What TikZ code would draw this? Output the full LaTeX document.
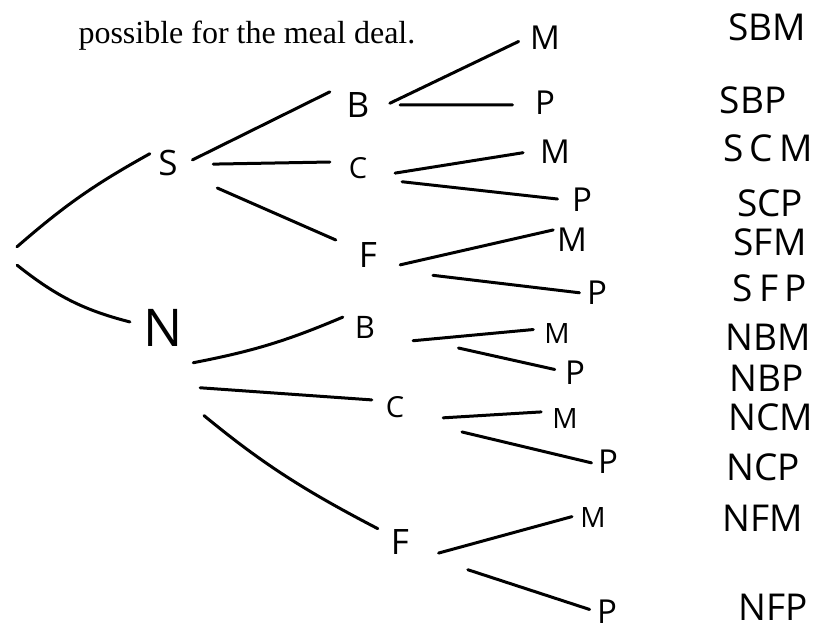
\documentclass[tikz,border=0pt]{standalone}
\usepackage{fontspec}
\setmainfont{Liberation Serif}
\newfontfamily\hand{Open Sans}

\begin{document}
\begin{tikzpicture}[x=1pt, y=-1pt,
        mid/.style={rectangle, inner sep=0pt, minimum height=50pt, font=\hand\fontsize{35}{40}\selectfont},
        leaf/.style={circle, inner sep=0pt, minimum size=30pt, font=\hand\fontsize{33}{38}\selectfont},
        small/.style={font=\hand\fontsize{28}{32}\selectfont},
        combo/.style={inner sep=0pt, font=\hand\fontsize{37}{42}\selectfont},
        br/.style={line width=3pt, line cap=round}
    ]
    \useasboundingbox (0,0) rectangle (815,633);
    \node[anchor=base west, font=\fontsize{32}{38}\selectfont] (title) at (75,43) {possible for the meal deal.};

    % first choice
    \node[rectangle, inner sep=0pt, minimum width=2pt, minimum height=18pt] (root) at (16,256) {};
    \node[mid, minimum width=36pt, minimum height=80pt] (S) at (168,163) {S};
    \node[mid, minimum width=60pt, minimum height=180pt, font=\hand\fontsize{52}{56}\selectfont] (N) at (163,328) {N};

    % second choice
    \node[mid, minimum width=56pt] (sb) at (358,105) {B};
    \node[mid, minimum width=56pt, font=\hand\fontsize{29}{34}\selectfont] (sc) at (358,168) {C};
    \node[mid, minimum width=64pt] (sf) at (368,255) {F};
    \node[mid, minimum width=44pt, minimum height=60pt, font=\hand\fontsize{31}{36}\selectfont] (nb) at (365,327) {B};
    \node[mid, minimum width=46pt, minimum height=60pt, font=\hand\fontsize{29}{34}\selectfont] (nc) at (395,407) {C};
    \node[mid, minimum width=44pt, minimum height=60pt] (nf) at (400,542) {F};

    % third choice
    \node[leaf] (sbm) at (545,38) {M};
    \node[leaf] (sbp) at (545,103) {P};
    \node[leaf] (scm) at (555,152) {M};
    \node[leaf] (scp) at (582,200) {P};
    \node[leaf] (sfm) at (572,240) {M};
    \node[leaf] (sfp) at (597,293) {P};
    \node[leaf, small] (nbm) at (557,333) {M};
    \node[leaf] (nbp) at (575,373) {P};
    \node[leaf, small] (ncm) at (565,418) {M};
    \node[leaf] (ncp) at (608,462) {P};
    \node[leaf, small] (nfm) at (593,517) {M};
    \node[leaf] (nfp) at (607,612) {P};

    % outcomes
    \node[combo] (oSBM) at (767,27) {SBM};
    \node[combo] (oSBP) at (753,100) {SBP};
    \node[combo] (oSCM) at (768,148) {S\,C\,M};
    \node[combo] (oSCP) at (770,203) {SCP};
    \node[combo] (oSFM) at (770,242) {SFM};
    \node[combo] (oSFP) at (770,288) {S\,F\,P};
    \node[combo] (oNBM) at (768,337) {NBM};
    \node[combo] (oNBP) at (767,378) {NBP};
    \node[combo] (oNCM) at (771,417) {NCM};
    \node[combo] (oNCP) at (763,467) {NCP};
    \node[combo] (oNFM) at (763,518) {NFM};
    \node[combo] (oNFP) at (773,607) {NFP};

    % branches
    \draw[br] (root.84) to[bend left=6] (S.153);
    \draw[br, shorten >=3pt] (root.-83) to[bend right=12] (N.170);

    \draw[br, shorten <=7pt] (S.0) -- (sb.155);
    \draw[br, shorten <=27pt] (S.-5) -- (sc.168);
    \draw[br, shorten <=34pt] (S.-32) -- (sf.155);
    \draw[br] (N.-49) to[bend right=6] (nb.156);
    \draw[br, shorten <=7pt] (N.-63) -- (nc.163);
    \draw[br, shorten <=14pt] (N.-69) to[bend right=6] (nf.149);

    \draw[br, shorten <=4pt, shorten >=8pt] (sb.0) -- (sbm.180);
    \draw[br, shorten <=14pt, shorten >=17pt] (sb.0) -- (sbp.187);
    \draw[br, shorten <=9pt, shorten >=13pt] (sc.-13) -- (scm.176);
    \draw[br, shorten <=16pt, shorten >=9pt] (sc.-23) -- (scp.180);
    \draw[br, shorten >=3pt] (sf.-17) -- (sfm.146);
    \draw[br, shorten <=33pt, shorten >=2pt] (sf.-27) -- (sfp.180);
    \draw[br, shorten <=26pt, shorten >=8pt] (nb.-36) -- (nbm.165);
    \draw[br, shorten <=73pt, shorten >=5pt] (nb.-13) -- (nbp.171);
    \draw[br, shorten <=25pt, shorten >=9pt] (nc.-28) -- (ncm.156);
    \draw[br, shorten <=45pt, shorten >=1pt] (nc.-32) -- (ncp.184);
    \draw[br, shorten <=17pt, shorten >=5pt] (nf.-35) -- (nfm.174);
    \draw[br, shorten <=48pt, shorten >=2pt] (nf.-30) -- (nfp.173);
\end{tikzpicture}
\end{document}
